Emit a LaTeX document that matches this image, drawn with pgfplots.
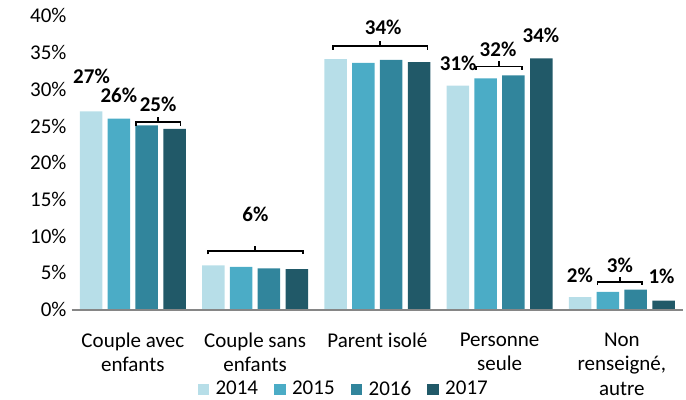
\documentclass[border=0pt]{standalone}
\usepackage{fontspec}
\setmainfont{Carlito}
\usepackage{pgfplots}
\pgfplotsset{compat=1.18}
\definecolor{c14}{HTML}{B7DEE8}
\definecolor{c15}{HTML}{4BACC6}
\definecolor{c16}{HTML}{31859C}
\definecolor{c17}{HTML}{215968}
\definecolor{axgray}{HTML}{868686}
\newcommand\lbl{\fontsize{21bp}{24.3bp}\selectfont}
\newcommand\brk[3]{%
  \draw[line width=1.8bp] (axis cs:#1,#3-0.48) -- (axis cs:#1,#3) -- (axis cs:#2,#3) -- (axis cs:#2,#3-0.48);
  \draw[line width=1.8bp] (axis cs:{(#1+#2)/2},#3) -- (axis cs:{(#1+#2)/2},#3+0.7);}
\newcommand\vl[3]{\node[inner sep=0pt,font=\lbl\bfseries] at (axis cs:#1,#2) {#3};}
\begin{document}
\begin{tikzpicture}
\begin{axis}[
  scale only axis, width=611.3bp, height=293.6bp,
  ybar, bar width=0.184,
  xmin=-0.5, xmax=4.5, ymin=0, ymax=40,
  xtick={0,1,2,3,4},
  xticklabels={{Couple avec\\enfants},{Couple sans\\enfants},{Parent isolé},{Personne\\seule},{Non\\renseigné,\\autre}},
  ytick={0,5,...,40},
  yticklabel={\pgfmathprintnumber{\tick}\%},
  /pgf/number format/assume math mode=true,
  tick style={draw=none},
  axis line style={draw=none},
  x tick label style={font=\lbl, align=center, inner sep=0pt, anchor=north, yshift=-19bp},
  y tick label style={font=\lbl, inner sep=0pt, xshift=-5bp},
  clip=false,
  legend columns=4,
  legend style={at={(0.2055,-0.2700)}, anchor=west, draw=none, fill=none, inner sep=0pt, font=\lbl,
    nodes={inner sep=0pt},
    /tikz/every odd column/.append style={column sep=6.3bp},
    /tikz/every even column/.append style={column sep=16bp}},
  legend image code/.code={\fill[#1] (0bp,-6.5bp) rectangle (11.7bp,5.2bp);},
]
\addplot[fill=c14, draw=none, bar shift=-0.341] coordinates {(0,27.0) (1,6.0) (2,34.1) (3,30.5) (4,1.7)};
\addplot[fill=c15, draw=none, bar shift=-0.1135] coordinates {(0,26.0) (1,5.8) (2,33.6) (3,31.5) (4,2.4)};
\addplot[fill=c16, draw=none, bar shift=0.1135] coordinates {(0,25.1) (1,5.6) (2,34.0) (3,31.9) (4,2.7)};
\addplot[fill=c17, draw=none, bar shift=0.341] coordinates {(0,24.6) (1,5.5) (2,33.7) (3,34.2) (4,1.2)};
\legend{2014,2015,2016,2017}
\draw[axgray, line width=2bp] (rel axis cs:0,0) -- (rel axis cs:1,0);
\coordinate (O) at (rel axis cs:0,0);
\brk{0.023}{0.390}{25.5}
\brk{0.613}{1.389}{8.0}
\brk{1.637}{2.410}{35.9}
\brk{2.808}{3.181}{33.1}
\brk{3.801}{4.166}{3.79}
\vl{0.207}{27.9}{25\%}
\vl{1.003}{12.9}{6\%}
\vl{2.048}{38.5}{34\%}
\vl{2.987}{35.4}{32\%}
\vl{3.984}{6.06}{3\%}
\vl{-0.338}{31.8}{27\%}
\vl{-0.114}{29.2}{26\%}
\vl{2.661}{33.5}{31\%}
\vl{3.338}{37.4}{34\%}
\vl{3.657}{4.7}{2\%}
\vl{4.324}{4.47}{1\%}
\end{axis}
\pgfresetboundingbox
\path (O) ++(-71.7bp,-90.5bp) rectangle ++(686bp,400bp);
\end{tikzpicture}
\end{document}
